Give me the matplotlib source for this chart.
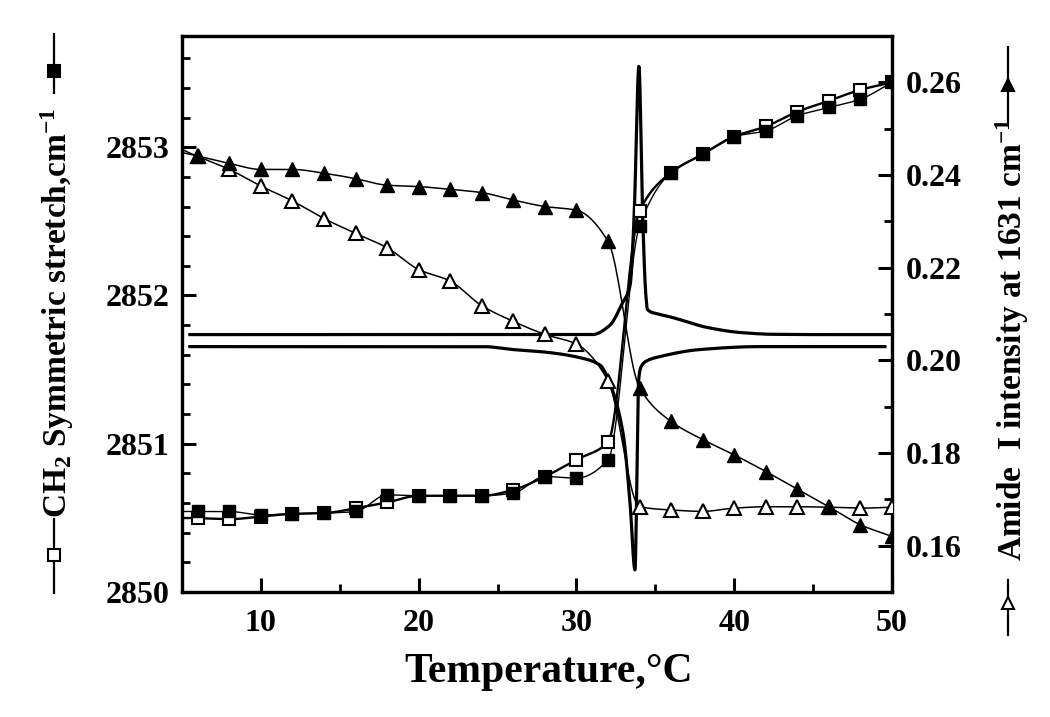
import numpy as np
import matplotlib
matplotlib.use("Agg")
import matplotlib.pyplot as plt
from matplotlib.lines import Line2D
from matplotlib.ticker import MultipleLocator

plt.rcParams['font.family'] = ['Liberation Serif', 'DejaVu Serif']
plt.rcParams['font.weight'] = 'bold'
plt.rcParams['mathtext.fontset'] = 'custom'
plt.rcParams['mathtext.rm'] = 'Liberation Serif:bold'
plt.rcParams['mathtext.bf'] = 'Liberation Serif:bold'
plt.rcParams['mathtext.default'] = 'rm'

# ---------------- data ----------------
temperature = [6, 8, 10, 12, 14, 16, 18, 20, 22, 24, 26, 28, 30, 32, 34, 36, 38, 40, 42, 44, 46, 48, 50]

ch2_filled = [2850.543, 2850.543, 2850.520, 2850.527, 2850.532, 2850.543, 2850.655, 2850.649,
              2850.649, 2850.649, 2850.667, 2850.779, 2850.768, 2850.89, 2852.47, 2852.829,
              2852.953, 2853.072, 2853.110, 2853.212, 2853.268, 2853.324, 2853.437]
ch2_open = [2850.498, 2850.491, 2850.509, 2850.527, 2850.532, 2850.565, 2850.604, 2850.649,
            2850.649, 2850.649, 2850.689, 2850.779, 2850.892, 2851.01, 2852.57, 2852.829,
            2852.953, 2853.072, 2853.140, 2853.239, 2853.313, 2853.387, 2853.437]

amide_filled = [0.2441, 0.2425, 0.2412, 0.2412, 0.2404, 0.2392, 0.2378, 0.2375, 0.2369, 0.2362,
                0.2346, 0.2332, 0.2324, 0.2257, 0.1941, 0.1868, 0.1829, 0.1796, 0.1760, 0.1722,
                0.1684, 0.1645, 0.1620]
amide_open = [0.2440, 0.2412, 0.2376, 0.2344, 0.2306, 0.2274, 0.2243, 0.2196, 0.2171, 0.2118,
              0.2084, 0.2056, 0.2035, 0.1956, 0.1684, 0.1677, 0.1674, 0.1681, 0.1684, 0.1684,
              0.1683, 0.1681, 0.1683]

# derivative-like traces (left-axis units)
deriv_up_T = [5.5, 15, 25, 31.0, 32.1, 32.9, 33.4, 33.65, 33.96, 34.2, 34.4, 34.5, 35.2,
              36.1, 38.3, 40.4, 42.5, 46, 50]
deriv_up_y = [2851.736, 2851.736, 2851.736, 2851.736, 2851.797, 2851.946, 2852.068, 2852.52,
              2853.547, 2852.52, 2852.0, 2851.905, 2851.875, 2851.851, 2851.784, 2851.750,
              2851.738, 2851.736, 2851.736]
deriv_dn_T = [5.5, 15, 24.1, 26.0, 28.1, 30.2, 31.5, 32.1, 32.95, 33.4, 33.71, 33.85, 33.92,
              34.1, 34.47, 35.3, 37.8, 41.6, 49.55]
deriv_dn_y = [2851.655, 2851.655, 2851.655, 2851.635, 2851.617, 2851.581, 2851.53, 2851.412,
              2851.074, 2850.595, 2850.149, 2850.9, 2851.40, 2851.52, 2851.56, 2851.588,
              2851.635, 2851.655, 2851.655]

xticks = [10, 20, 30, 40, 50]
left_ticks = [2850, 2851, 2852, 2853]
right_ticks = [0.16, 0.18, 0.20, 0.22, 0.24, 0.26]


def pchip(x, y, xn):
    x = np.asarray(x, float)
    y = np.asarray(y, float)
    h = np.diff(x)
    d = np.diff(y) / h
    n = len(x)
    m = np.zeros(n)
    for k in range(1, n - 1):
        if d[k - 1] * d[k] > 0:
            w1 = 2 * h[k] + h[k - 1]
            w2 = h[k] + 2 * h[k - 1]
            m[k] = (w1 + w2) / (w1 / d[k - 1] + w2 / d[k])
    m[0] = d[0]
    m[-1] = d[-1]
    idx = np.clip(np.searchsorted(x, xn) - 1, 0, n - 2)
    t = (xn - x[idx]) / h[idx]
    h00 = 2 * t**3 - 3 * t**2 + 1
    h10 = t**3 - 2 * t**2 + t
    h01 = -2 * t**3 + 3 * t**2
    h11 = t**3 - t**2
    return h00 * y[idx] + h10 * h[idx] * m[idx] + h01 * y[idx + 1] + h11 * h[idx] * m[idx + 1]


W, H = 1050, 717
fig = plt.figure(figsize=(W / 100, H / 100), dpi=100)
L, R, B, T = 182, 892, 592, 36
ax = fig.add_axes([L / W, 1 - B / H, (R - L) / W, (B - T) / H])
ax2 = ax.twinx()

ax.set_xlim(5, 50)
ax.set_ylim(2850, 2853.75)
ax2.set_ylim(0.15, 0.27)

# smooth curves (extend slightly to the left spine)
tt = np.linspace(5.05, temperature[-1], 900)
ax.plot(tt, pchip(temperature, ch2_open, tt), color='black', lw=1.7, zorder=2)
ax.plot(tt, pchip(temperature, ch2_filled, tt), color='black', lw=1.0, zorder=2)

tu = np.linspace(deriv_up_T[0], deriv_up_T[-1], 2000)
ax.plot(tu, pchip(deriv_up_T, deriv_up_y, tu), color='black', lw=2.3, zorder=2)
td = np.linspace(deriv_dn_T[0], deriv_dn_T[-1], 2000)
ax.plot(td, pchip(deriv_dn_T, deriv_dn_y, td), color='black', lw=2.3, zorder=2)

ax.plot(temperature, ch2_open, ls='none', marker='s', ms=8.5, mfc='white', mec='black', mew=1.5, zorder=4)
ax.plot(temperature, ch2_filled, ls='none', marker='s', ms=8.5, mfc='black', mec='black', zorder=4)

ax2.plot(tt, pchip(temperature, amide_filled, tt), color='black', lw=1.1, zorder=2)
ax2.plot(tt, pchip(temperature, amide_open, tt), color='black', lw=1.1, zorder=2)
ax2.plot(temperature, amide_open, ls='none', marker='^', ms=9.5, mfc='white', mec='black', mew=1.5, zorder=4)
ax2.plot(temperature, amide_filled, ls='none', marker='^', ms=9.5, mfc='black', mec='black', zorder=4)

# ticks & spines
for a in (ax, ax2):
    for s in a.spines.values():
        s.set_linewidth(2.3)
ax.set_xticks(xticks)
ax.xaxis.set_minor_locator(MultipleLocator(5))
ax.set_yticks(left_ticks)
ax.yaxis.set_minor_locator(MultipleLocator(0.2))
ax2.set_yticks(right_ticks)
ax2.set_yticklabels(['%.2f' % v for v in right_ticks])
ax2.yaxis.set_minor_locator(MultipleLocator(0.01))

ax.tick_params(axis='both', which='major', direction='in', length=10, width=2.2,
               labelsize=23, top=False, right=False, pad=9)
ax.tick_params(axis='both', which='minor', direction='in', length=6, width=2.0, top=False, right=False)
ax.tick_params(axis='x', which='major', pad=12)
ax2.tick_params(axis='y', which='major', direction='in', length=10, width=2.2, labelsize=23, pad=10)
ax2.tick_params(axis='y', which='minor', direction='in', length=6, width=2.0)
for lab in ax.get_xticklabels() + ax.get_yticklabels() + ax2.get_yticklabels():
    lab.set_fontweight('bold')

fig.text(549 / W, 1 - 672 / H, 'Temperature,\u00b0C', ha='center', va='center',
         fontsize=30, fontweight='bold')

# axis labels with symbols
fig.text(57 / W, 1 - 313 / H, r'CH$_2$ Symmetric stretch,cm$^{-1}$', rotation=90,
         ha='center', va='center', fontsize=24, fontweight='bold')
fig.text(1012 / W, 1 - 339 / H, r'Amide  I intensity at 1631 cm$^{-1}$', rotation=90,
         ha='center', va='center', fontsize=24, fontweight='bold')


def sym(xpx, y0, y1, ym, marker, fill):
    fig.lines.append(Line2D([xpx / W, xpx / W], [1 - y0 / H, 1 - y1 / H], transform=fig.transFigure,
                            color='black', lw=1.6))
    fig.lines.append(Line2D([xpx / W], [1 - ym / H], transform=fig.transFigure, ls='none',
                            marker=marker, ms=9, mfc=fill, mec='black', mew=1.5))


sym(54, 34, 93, 71, 's', 'black')
sym(54, 519, 593, 555, 's', 'white')
sym(1008, 47, 122, 85, '^', 'black')
sym(1008, 580, 635, 603, '^', 'white')

fig.savefig('out.png', dpi=100)
